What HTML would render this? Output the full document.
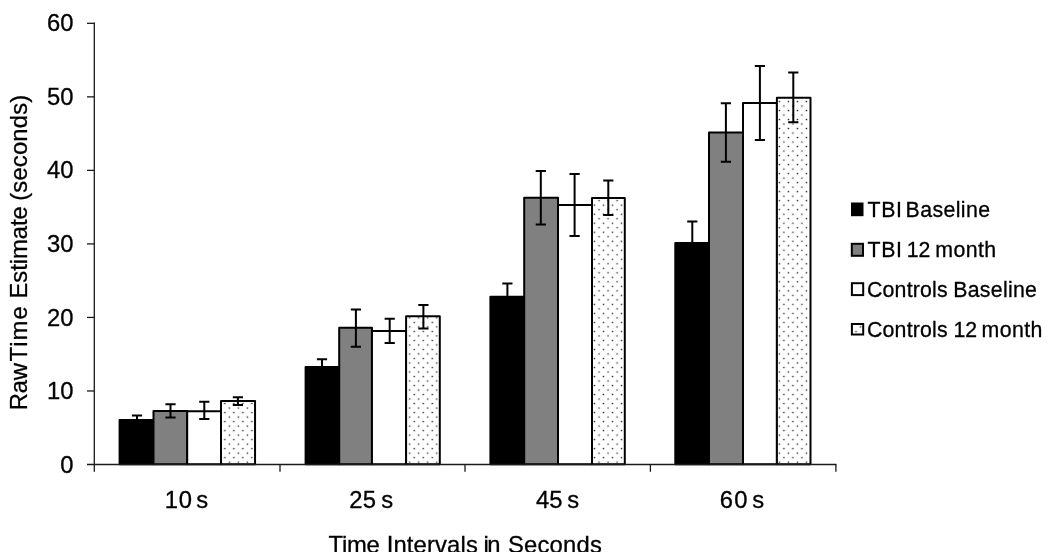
<!DOCTYPE html>
<html lang="en"><head><meta charset="utf-8"><title>Raw Time Estimate chart</title>
<style>
html,body{margin:0;padding:0;background:#fff;}
body{width:1050px;height:552px;overflow:hidden;}
svg{display:block;}
text{font-family:"Liberation Sans",Arial,Helvetica,sans-serif;fill:#000;stroke:#000;stroke-width:0.3px;white-space:pre;}
.ax{font-size:23.8px;}
.lg{font-size:21.3px;}
</style></head><body>
<svg width="1050" height="552" viewBox="0 0 1050 552">
<defs>
<pattern id="dots" x="1.7" y="0" width="9.017" height="9.017" patternUnits="userSpaceOnUse">
<rect width="9.017" height="9.017" fill="#fff"/>
<rect x="1.525" y="1.650" width="1.4" height="1.3" fill="#222"/>
<rect x="6.035" y="6.160" width="1.4" height="1.3" fill="#222"/>
</pattern>
</defs>
<rect width="1050" height="552" fill="#fff"/>

<g stroke="#000" stroke-width="2" stroke-linejoin="round">
<rect x="119.60" y="420.10" width="33.90" height="44.10" fill="#000"/>
<rect x="153.50" y="411.10" width="33.70" height="53.10" fill="#808080"/>
<rect x="187.20" y="411.20" width="33.80" height="53.00" fill="#fff"/>
<rect x="221.00" y="401.00" width="34.05" height="63.20" fill="url(#dots)"/>
<rect x="305.60" y="367.00" width="33.60" height="97.20" fill="#000"/>
<rect x="339.20" y="327.80" width="32.75" height="136.40" fill="#808080"/>
<rect x="371.95" y="330.95" width="34.15" height="133.25" fill="#fff"/>
<rect x="406.10" y="316.20" width="33.70" height="148.00" fill="url(#dots)"/>
<rect x="490.40" y="296.80" width="33.80" height="167.40" fill="#000"/>
<rect x="524.20" y="197.85" width="33.80" height="266.35" fill="#808080"/>
<rect x="558.00" y="204.90" width="34.00" height="259.30" fill="#fff"/>
<rect x="592.00" y="198.10" width="32.80" height="266.10" fill="url(#dots)"/>
<rect x="675.30" y="242.90" width="33.70" height="221.30" fill="#000"/>
<rect x="709.00" y="132.60" width="34.00" height="331.60" fill="#808080"/>
<rect x="743.00" y="103.10" width="33.90" height="361.10" fill="#fff"/>
<rect x="776.90" y="97.65" width="33.60" height="366.55" fill="url(#dots)"/>
</g>
<g stroke="#000" stroke-width="2" fill="none">
<path d="M137.00 415.50V424.60M131.90 415.50H142.10M131.90 424.60H142.10"/>
<path d="M170.50 404.20V417.40M165.40 404.20H175.60M165.40 417.40H175.60"/>
<path d="M204.30 401.70V418.90M199.20 401.70H209.40M199.20 418.90H209.40"/>
<path d="M237.90 397.30V405.00M232.80 397.30H243.00M232.80 405.00H243.00"/>
<path d="M322.00 359.30V374.70M316.90 359.30H327.10M316.90 374.70H327.10"/>
<path d="M355.90 309.60V346.70M350.80 309.60H361.00M350.80 346.70H361.00"/>
<path d="M389.70 318.70V343.10M384.60 318.70H394.80M384.60 343.10H394.80"/>
<path d="M423.40 305.00V328.50M418.30 305.00H428.50M418.30 328.50H428.50"/>
<path d="M507.40 283.60V311.00M502.30 283.60H512.50M502.30 311.00H512.50"/>
<path d="M540.80 170.90V224.60M535.70 170.90H545.90M535.70 224.60H545.90"/>
<path d="M574.60 174.10V236.00M569.50 174.10H579.70M569.50 236.00H579.70"/>
<path d="M608.30 180.60V214.90M603.20 180.60H613.40M603.20 214.90H613.40"/>
<path d="M692.30 221.50V264.50M687.20 221.50H697.40M687.20 264.50H697.40"/>
<path d="M725.90 103.20V161.70M720.80 103.20H731.00M720.80 161.70H731.00"/>
<path d="M759.90 66.10V140.10M754.80 66.10H765.00M754.80 140.10H765.00"/>
<path d="M793.30 72.60V122.20M788.20 72.60H798.40M788.20 122.20H798.40"/>
</g>
<g stroke="#1a1a1a" stroke-width="1.3" fill="none">
<path d="M94.3 22.6V471.8"/>
<path d="M87 464.5H836.5"/>
<path d="M280.0 464.5V471.8"/>
<path d="M465.0 464.5V471.8"/>
<path d="M650.4 464.5V471.8"/>
<path d="M835.9 464.5V471.8"/>
<path d="M87 390.97H94.3"/>
<path d="M87 317.44H94.3"/>
<path d="M87 243.91H94.3"/>
<path d="M87 170.38H94.3"/>
<path d="M87 96.85H94.3"/>
<path d="M87 23.32H94.3"/>
</g>
<g>
<text class="ax" x="60.25" y="472.60">0</text>
<text class="ax" x="47.00" y="399.07">10</text>
<text class="ax" x="47.00" y="325.54">20</text>
<text class="ax" x="47.00" y="252.01">30</text>
<text class="ax" x="47.00" y="178.48">40</text>
<text class="ax" x="47.00" y="104.95">50</text>
<text class="ax" x="47.00" y="31.42">60</text>
</g>
<g>
<text class="ax" y="507.90"><tspan x="164.82" style="letter-spacing:0.675px">10</tspan> <tspan x="196.35">s</tspan></text>
<text class="ax" y="507.90"><tspan x="349.15" style="letter-spacing:0.350px">25</tspan> <tspan x="381.15">s</tspan></text>
<text class="ax" y="507.90"><tspan x="535.90">45</tspan> <tspan x="567.35">s</tspan></text>
<text class="ax" y="507.90"><tspan x="719.85" style="letter-spacing:1.150px">60</tspan> <tspan x="752.35">s</tspan></text>
</g>
<g>
<text class="ax" y="553.00"><tspan x="328.60" style="letter-spacing:-0.258px">Time</tspan> <tspan x="386.65" style="letter-spacing:0.153px">Intervals</tspan> <tspan x="483.48" style="letter-spacing:-1.575px">in</tspan> <tspan x="507.98" style="letter-spacing:0.212px">Seconds</tspan></text>
</g>
<g transform="translate(27.2 0) rotate(-90)">
<text class="ax" y="0.00"><tspan x="-410.30" style="letter-spacing:-0.213px">Raw</tspan> <tspan x="-361.50" style="letter-spacing:1.075px">Time</tspan> <tspan x="-298.50" style="letter-spacing:-0.057px">Estimate</tspan> <tspan x="-200.80" style="letter-spacing:0.194px">(seconds)</tspan></text>
</g>
<g>
<rect x="852.00" y="203.50" width="10.50" height="11.70" fill="#000" stroke="#000" stroke-width="2"/>
<text class="lg" y="216.80"><tspan x="867.50" style="letter-spacing:0.688px">TBI</tspan> <tspan x="905.55" style="letter-spacing:0.400px">Baseline</tspan></text>
<rect x="851.80" y="243.80" width="11.20" height="12.00" fill="#808080" stroke="#000" stroke-width="2"/>
<text class="lg" y="256.70"><tspan x="867.50" style="letter-spacing:0.688px">TBI</tspan> <tspan x="906.67">12</tspan> <tspan x="935.33" style="letter-spacing:0.406px">month</tspan></text>
<rect x="851.90" y="283.20" width="11.30" height="11.90" fill="#fff" stroke="#000" stroke-width="2"/>
<text class="lg" y="297.00"><tspan x="866.98" style="letter-spacing:0.204px">Controls</tspan> <tspan x="953.25" style="letter-spacing:0.271px">Baseline</tspan></text>
<rect x="851.90" y="324.00" width="11.30" height="10.50" fill="url(#dots)" stroke="#000" stroke-width="2"/>
<text class="lg" y="336.90"><tspan x="866.98" style="letter-spacing:0.204px">Controls</tspan> <tspan x="953.38">12</tspan> <tspan x="981.62" style="letter-spacing:0.406px">month</tspan></text>
</g>
</svg></body></html>
